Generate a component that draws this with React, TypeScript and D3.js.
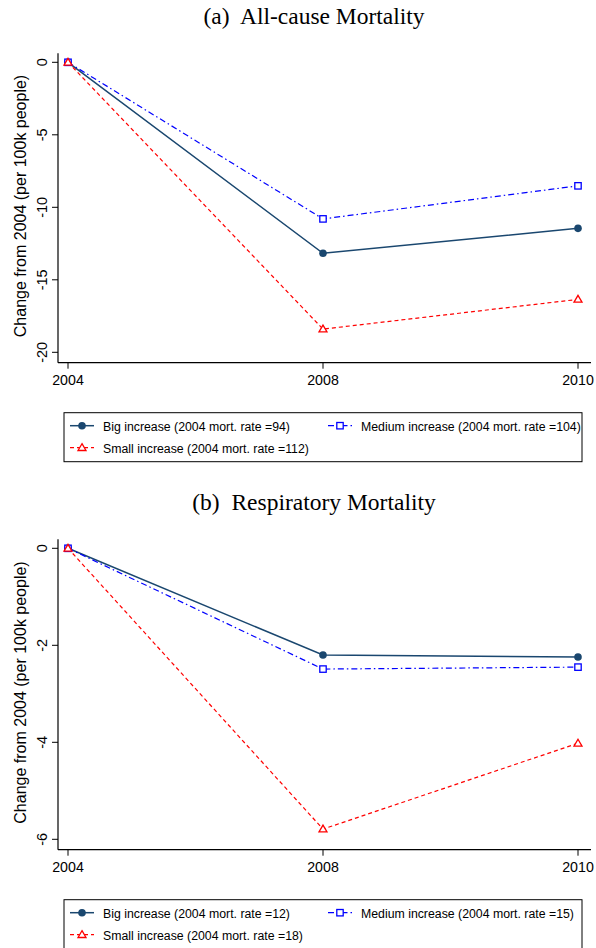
import React from "react";
import * as d3 from "d3";

const years = ["2004", "2008", "2010"];

const allBig = [0, -13.17, -11.45];
const allMedium = [0, -10.8, -8.52];
const allSmall = [0, -18.4, -16.35];
const allTicks = [0, -5, -10, -15, -20];
const allLegend = [
  "Big increase (2004 mort. rate =94)",
  "Medium increase (2004 mort. rate =104)",
  "Small increase (2004 mort. rate =112)",
];

const respBig = [0, -2.2, -2.24];
const respMedium = [0, -2.49, -2.45];
const respSmall = [0, -5.79, -4.02];
const respTicks = [0, -2, -4, -6];
const respLegend = [
  "Big increase (2004 mort. rate =12)",
  "Medium increase (2004 mort. rate =15)",
  "Small increase (2004 mort. rate =18)",
];

const SANS = "'Liberation Sans', Arial, Helvetica, sans-serif";
const SERIF = "'Liberation Serif', 'Times New Roman', serif";

const NAVY = "#1a476f";
const BLUE = "#0000ff";
const RED = "#ff0000";

type Series = { values: number[]; color: string; dash: string; marker: string; width: number };

function Marker({ type, x, y, color }: { type: string; x: number; y: number; color: string }) {
  if (type === "circle") return <circle cx={x} cy={y} r={3.8} fill={color} />;
  if (type === "square")
    return <rect x={x - 3.2} y={y - 3.2} width={6.4} height={6.4} fill="white" stroke={color} strokeWidth={1.3} />;
  const s = 4;
  const p = `M${x},${y - s} L${x + s},${y + s * 0.7} L${x - s},${y + s * 0.7} Z`;
  return <path d={p} fill="white" stroke={color} strokeWidth={1.3} />;
}

function Panel({
  top,
  title,
  ticks,
  domain,
  yTop,
  yBottom,
  series,
  legend,
}: {
  top: number;
  title: string;
  ticks: number[];
  domain: [number, number];
  yTop: number;
  yBottom: number;
  series: Series[];
  legend: string[];
}) {
  const axisX = 58;
  const x = d3.scalePoint<string>().domain(years).range([68, 578]);
  const y = d3.scaleLinear().domain(domain).range([yTop, yBottom]);
  const axisTop = y(domain[0]) - 9;
  const axisY = y(domain[1]) + 10.4;
  const line = d3
    .line<number>()
    .x((_, i) => x(years[i]) as number)
    .y((d) => y(d));

  const legTop = axisY + 50;
  const legH = 49;
  const row1 = legTop + 18;
  const row2 = legTop + 40;
  const legItems = [
    { s: series[0], label: legend[0], x0: 70, ty: row1 },
    { s: series[1], label: legend[1], x0: 328, ty: row1 },
    { s: series[2], label: legend[2], x0: 70, ty: row2 },
  ];

  return (
    <g>
      <text x={314} y={top} textAnchor="middle" fontFamily={SERIF} fontSize={23.5} fill="#000" style={{ whiteSpace: "pre" }}>
        {title}
      </text>
      {/* axes */}
      <line x1={axisX} x2={axisX} y1={axisTop} y2={axisY} stroke="#000" strokeWidth={1.2} />
      <line x1={axisX} x2={591} y1={axisY} y2={axisY} stroke="#000" strokeWidth={1.2} />
      {ticks.map((t) => (
        <g key={t}>
          <line x1={axisX - 6} x2={axisX} y1={y(t)} y2={y(t)} stroke="#000" strokeWidth={1} />
          <text
            transform={`translate(${axisX - 11},${y(t)}) rotate(-90)`}
            textAnchor="middle"
            fontFamily={SANS}
            fontSize={14.5}
            fill="#000"
          >
            {t}
          </text>
        </g>
      ))}
      {years.map((yr) => (
        <g key={yr}>
          <line x1={x(yr)} x2={x(yr)} y1={axisY} y2={axisY + 6} stroke="#000" strokeWidth={1} />
          <text x={x(yr)} y={axisY + 22.5} textAnchor="middle" fontFamily={SANS} fontSize={14.2} fill="#000">
            {yr}
          </text>
        </g>
      ))}
      <text
        transform={`translate(26,${(axisTop + axisY) / 2 - 2}) rotate(-90)`}
        textAnchor="middle"
        fontFamily={SANS}
        fontSize={16}
        fill="#000"
      >
        Change from 2004 (per 100k people)
      </text>
      {/* lines */}
      {series.map((s, i) => (
        <path key={i} d={line(s.values) as string} fill="none" stroke={s.color} strokeWidth={s.width} strokeDasharray={s.dash} />
      ))}
      {series.map((s, i) =>
        s.values.map((v, j) => <Marker key={`${i}-${j}`} type={s.marker} x={x(years[j]) as number} y={y(v)} color={s.color} />)
      )}
      {/* legend */}
      <rect x={64} y={legTop} width={518} height={legH} fill="white" stroke="#000" strokeWidth={1} />
      {legItems.map((it, i) => (
        <g key={i}>
          <line
            x1={it.x0}
            x2={it.x0 + 24}
            y1={it.ty - 5}
            y2={it.ty - 5}
            stroke={it.s.color}
            strokeWidth={it.s.width}
            strokeDasharray={it.s.dash}
          />
          <Marker type={it.s.marker} x={it.x0 + 12} y={it.ty - 5} color={it.s.color} />
          <text x={it.x0 + 33} y={it.ty} fontFamily={SANS} fontSize={12.3} fill="#000">
            {it.label}
          </text>
        </g>
      ))}
    </g>
  );
}

export default function App() {
  const mk = (b: number[], m: number[], s: number[]): Series[] => [
    { values: b, color: NAVY, dash: "", marker: "circle", width: 1.5 },
    { values: m, color: BLUE, dash: "6,3,1.5,3", marker: "square", width: 1.2 },
    { values: s, color: RED, dash: "4,3", marker: "triangle", width: 1.2 },
  ];
  return (
    <svg
      width={596}
      height={948}
      style={{ position: "absolute", left: 0, top: 0, background: "white" }}
    >
      <rect width={596} height={948} fill="white" />
      <Panel
        top={24}
        title={"(a)  All-cause Mortality"}
        ticks={allTicks}
        domain={[0, -20]}
        yTop={62.3}
        yBottom={352.3}
        series={mk(allBig, allMedium, allSmall)}
        legend={allLegend}
      />
      <Panel
        top={510}
        title={"(b)  Respiratory Mortality"}
        ticks={respTicks}
        domain={[0, -6]}
        yTop={548.3}
        yBottom={839.3}
        series={mk(respBig, respMedium, respSmall)}
        legend={respLegend}
      />
    </svg>
  );
}
